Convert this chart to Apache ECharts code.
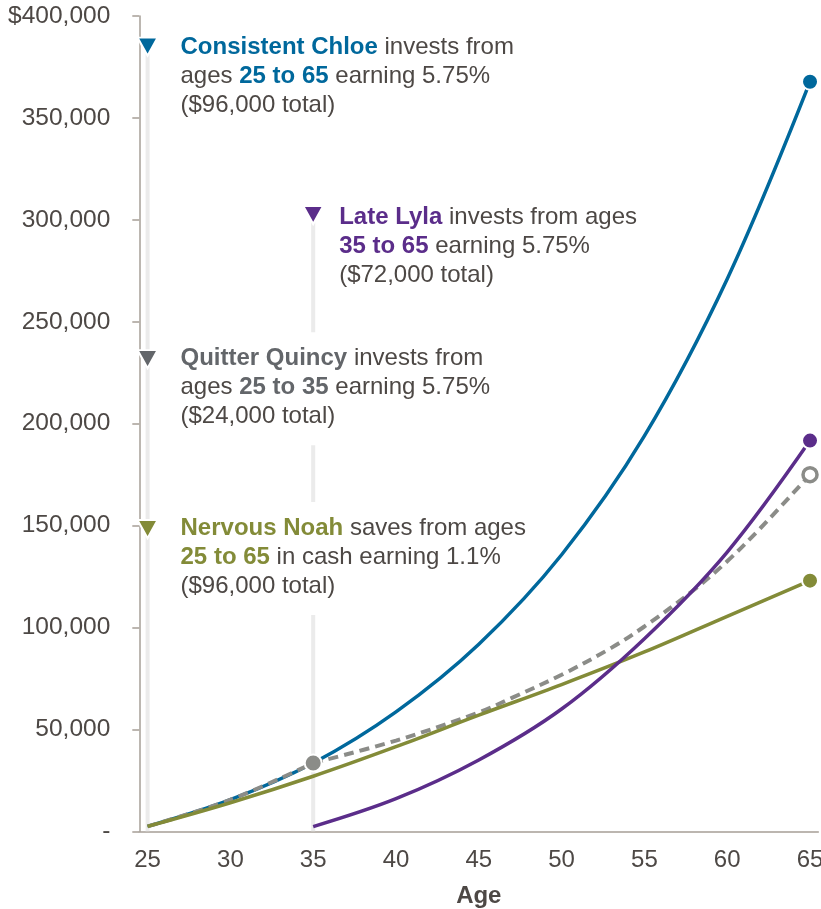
<!DOCTYPE html>
<html>
<head>
<meta charset="utf-8">
<script src="https://cdn.jsdelivr.net/npm/echarts@6/dist/echarts.min.js"></script>
<style>
  html, body { margin: 0; padding: 0; background: #fff; }
  #chart { width: 821px; height: 909px; }
</style>
</head>
<body>
<div id="chart"></div>
<script>
// ages on the x axis (category axis, ticks sit between categories)
const ages = Array.from({ length: 41 }, (_, i) => String(25 + i))

// values
const keyAges = [25, 30, 35, 40, 45, 50, 55, 60, 65]
const chloe = [2400, 15500, 33500, 58600, 91800, 135700, 194000, 271000, 367800]
const noah = [2400, 14000, 27000, 41500, 57000, 72000, 88000, 105500, 123000]
const quincyAgesEarly = [25, 30, 35]
const quincyEarly = [2400, 15500, 33500]
const quincyAgesLate = [35, 40, 45, 47, 50, 53, 55, 58, 60, 62, 65]
const quincyLate = [33500, 44500, 58300, 65500, 76800, 90000, 100500, 118500, 132500, 148700, 175000]
const lylaAges = [35, 40, 45, 50, 55, 60, 65]
const lyla = [2300, 16000, 35000, 60000, 94500, 137000, 191700]

// annotation anchors (triangle markers) and guide lines
const noteAges = [25, 35, 25, 25]
const noteValues = [385000, 302400, 231700, 148300]
const guideAges = [25, 35]
const guideTops = [385000, 302400]

const C = {
  blue: '#00689c', purple: '#5b2d8a', gray: '#8b8c88', grayText: '#63666a',
  green: '#838b38', text: '#4d4845', axis: '#a69f97', guide: '#ebebeb'
}
const FONT = 'Liberation Sans, Arial, sans-serif'

const pairs = (xs, ys) => xs.map((a, i) => [String(a), ys[i]])

const chart = echarts.init(document.getElementById('chart'))

const notes = [
  { color: C.blue, pos: [44, -16],
    text: '{blue|Consistent Chloe} invests from\nages {blue|25 to 65} earning 5.75%\n($96,000 total)' },
  { color: C.purple, pos: [37, -14],
    text: '{purple|Late Lyla} invests from ages\n{purple|35 to 65} earning 5.75%\n($72,000 total)' },
  { color: C.grayText, pos: [44, -17],
    text: '{gray|Quitter Quincy} invests from\nages {gray|25 to 35} earning 5.75%\n($24,000 total)' },
  { color: C.green, pos: [44, -17],
    text: '{green|Nervous Noah} saves from ages\n{green|25 to 65} in cash earning 1.1%\n($96,000 total)' }
]

const bold = c => ({ color: c, fontWeight: 'bold', fontSize: 24, lineHeight: 29, fontFamily: FONT })

const lineSeries = (name, data, color, extra) => Object.assign({
  name, type: 'line', data, smooth: 0.35, symbol: 'none', z: 3, silent: true,
  lineStyle: { color, width: 3.5 }
}, extra)

const dashed = { lineStyle: { color: C.gray, width: 4, type: [10, 6] } }

const dot = (value, size, color, border, bw) => ({
  value, symbolSize: size,
  itemStyle: { color, borderColor: border, borderWidth: bw, opacity: 1 }
})

chart.setOption({
  animation: false,
  grid: { left: 139.3, right: 2.7, top: 16.1, bottom: 77.7, outerBoundsMode: 'none', containLabel: false },
  xAxis: {
    type: 'category', data: ages, boundaryGap: true,
    name: 'Age', nameLocation: 'middle', nameGap: 53,
    nameTextStyle: { fontSize: 24, fontWeight: 'bold', color: C.text, fontFamily: FONT },
    axisLine: { lineStyle: { color: C.axis, width: 1.5 } },
    axisTick: { interval: 4, length: 7, lineStyle: { color: C.axis, width: 1.5 } },
    axisLabel: { interval: 4, fontSize: 24, color: C.text, margin: 17, fontFamily: FONT },
    splitLine: { show: false }
  },
  yAxis: {
    type: 'value', min: 0, max: 400000, interval: 50000,
    axisLine: { show: true, lineStyle: { color: C.axis, width: 1.5 } },
    axisTick: { show: true, length: 7, lineStyle: { color: C.axis, width: 1.5 } },
    axisLabel: {
      fontSize: 24.5, color: C.text, margin: 29, fontFamily: FONT, padding: [4, 0, 0, 0],
      formatter: v => v === 0 ? '-' : (v === 400000 ? '$' : '') + v.toLocaleString('en-US')
    },
    splitLine: { show: false }
  },
  series: [
    ...guideAges.map((a, i) => ({
      type: 'line', data: pairs([a, a], [0, guideTops[i]]), symbol: 'none', z: 1, silent: true,
      lineStyle: { color: C.guide, width: 4 }
    })),
    {
      type: 'scatter', z: 2, silent: true,
      symbol: 'path://M0,0 L18,0 L9,16 Z', symbolSize: [20, 18],
      data: noteAges.map((a, i) => ({
        value: [String(a), noteValues[i]],
        itemStyle: { color: notes[i].color, borderColor: '#fff', borderWidth: 2, opacity: 1 },
        label: {
          show: true, position: notes[i].pos, align: 'left', verticalAlign: 'top',
          formatter: notes[i].text,
          fontSize: 24, lineHeight: 29, color: C.text, fontFamily: FONT,
          backgroundColor: '#fff', padding: [12, 0, 14, 0],
          rich: { blue: bold(C.blue), purple: bold(C.purple), gray: bold(C.grayText), green: bold(C.green) }
        }
      }))
    },
    lineSeries('Consistent Chloe', pairs(keyAges, chloe), C.blue),
    lineSeries('Quitter Quincy', pairs(quincyAgesEarly, quincyEarly), C.gray, dashed),
    lineSeries('Quitter Quincy', pairs(quincyAgesLate, quincyLate), C.gray, dashed),
    lineSeries('Nervous Noah', pairs(keyAges, noah), C.green),
    lineSeries('Late Lyla', pairs(lylaAges, lyla), C.purple),
    {
      type: 'scatter', z: 4, silent: true, symbol: 'circle',
      data: [
        dot(['35', quincyLate[0]], 17, C.gray, '#fff', 2),
        dot(['65', chloe[chloe.length - 1]], 16, C.blue, '#fff', 2),
        dot(['65', lyla[lyla.length - 1]], 16, C.purple, '#fff', 2),
        dot(['65', quincyLate[quincyLate.length - 1]], 14, '#fff', C.gray, 3.5),
        dot(['65', noah[noah.length - 1]], 16, C.green, '#fff', 2)
      ]
    }
  ]
})

window.addEventListener('resize', () => chart.resize())
</script>
</body>
</html>
